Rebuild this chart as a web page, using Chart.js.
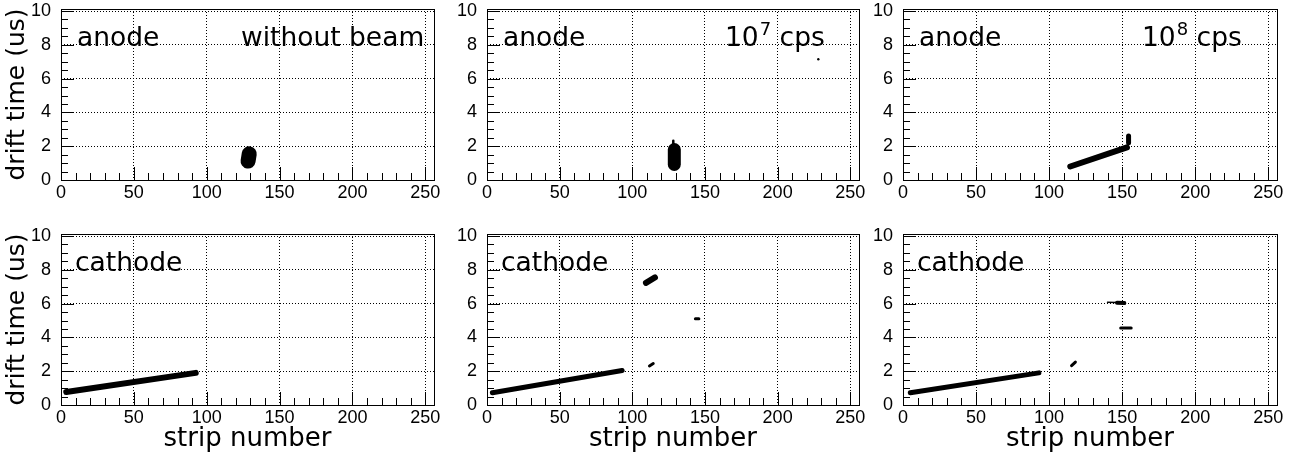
<!DOCTYPE html>
<html lang="en">
<head>
<meta charset="UTF-8" />
<title>Drift time vs strip number</title>
<style>
  body { margin: 0; background: #ffffff; }
  #wrap { position: relative; width: 1297px; height: 461px; background: #ffffff; overflow: hidden; }
  #wrap canvas { position: absolute; }
</style>
<script src="https://cdn.jsdelivr.net/npm/chart.js@4.4.1/dist/chart.umd.min.js"></script>
</head>
<body>
<div id="wrap">
  <canvas id="p1" width="440" height="220" style="left:0px;top:0px"></canvas>
  <canvas id="p2" width="430" height="220" style="left:440px;top:0px"></canvas>
  <canvas id="p3" width="432" height="220" style="left:865px;top:0px"></canvas>
  <canvas id="p4" width="440" height="241" style="left:0px;top:220px"></canvas>
  <canvas id="p5" width="430" height="241" style="left:440px;top:220px"></canvas>
  <canvas id="p6" width="432" height="241" style="left:865px;top:220px"></canvas>
</div>
<script>
// tick labels
const xTicks = [0, 50, 100, 150, 200, 250];
const yTicks = [0, 2, 4, 6, 8, 10];

// panel names
const electrodes = ['anode', 'cathode'];
const rates = [['without beam'], ['10', '7', ' cps'], ['10', '8', ' cps']];

// hit clusters: (strip number, drift time in us)
// anode, without beam
const anodeOffBlob = [{x: 128.4, y: 1.12}, {x: 129.2, y: 1.55}];
// anode, 10^7 cps
const anode7Blob = [{x: 128.9, y: 0.92}, {x: 128.9, y: 1.8}];
const anode7Spike = [{x: 128.2, y: 2.15}, {x: 128.2, y: 2.33}];
const anode7Stray = [{x: 228, y: 7.15}];
// anode, 10^8 cps
const anode8Band = [{x: 114.5, y: 0.8}, {x: 153.3, y: 1.93}];
const anode8Tail = [{x: 154.4, y: 2.2}, {x: 154.4, y: 2.6}];
// cathode, without beam
const cathodeOffBand = [{x: 3.6, y: 0.77}, {x: 92.5, y: 1.9}];
// cathode, 10^7 cps
const cathode7Band = [{x: 3.7, y: 0.72}, {x: 93, y: 2.04}];
const cathode7Upper = [{x: 109.4, y: 7.23}, {x: 115.6, y: 7.55}];
const cathode7Low = [{x: 111.8, y: 2.31}, {x: 114.4, y: 2.45}];
const cathode7Dash = [{x: 143.4, y: 5.1}, {x: 145.8, y: 5.1}];
// cathode, 10^8 cps
const cathode8Band = [{x: 5, y: 0.72}, {x: 93, y: 1.9}];
const cathode8Low = [{x: 115.4, y: 2.33}, {x: 118, y: 2.54}];
const cathode8UpperThin = [{x: 140, y: 6.08}, {x: 146, y: 6.06}];
const cathode8Upper = [{x: 146.5, y: 6.05}, {x: 151.5, y: 6.03}];
const cathode8Lower = [{x: 149, y: 4.55}, {x: 156.2, y: 4.55}];

const X_MAX = 256;
const Y_MAX = 10.12;

// layout of the 3x2 grid (pixels inside each canvas)
const cols = [
  { axisW: 61, padR: 6, yTitle: true },
  { axisW: 47, padR: 11, yTitle: false },
  { axisW: 38, padR: 20, yTitle: false }
];
const rows = [
  { padT: 9, axisH: 40, xTitle: false, nameDx: 16 },
  { padT: 14, axisH: 56, xTitle: true, nameDx: 14 }
];

const panels = [
  { id: 'p1', row: 0, col: 0, strokes: [[anodeOffBlob, 15]], dots: [] },
  { id: 'p2', row: 0, col: 1, strokes: [[anode7Blob, 13], [anode7Spike, 2.5]], dots: [anode7Stray] },
  { id: 'p3', row: 0, col: 2, strokes: [[anode8Band, 6], [anode8Tail, 5]], dots: [] },
  { id: 'p4', row: 1, col: 0, strokes: [[cathodeOffBand, 6]], dots: [] },
  { id: 'p5', row: 1, col: 1, strokes: [[cathode7Band, 5], [cathode7Upper, 6], [cathode7Low, 3], [cathode7Dash, 3]], dots: [] },
  { id: 'p6', row: 1, col: 2, strokes: [[cathode8Band, 5], [cathode8Low, 3], [cathode8UpperThin, 1.5], [cathode8Upper, 4], [cathode8Lower, 3]], dots: [] }
];
const rateDx = [180, 238, 239];
const LABEL_FONT = '26.5px "DejaVu Sans"';
const SUP_FONT = '18px "DejaVu Sans"';

// ROOT-like frame with inward ticks
const rootFrame = {
  id: 'rootFrame',
  afterDatasetsDraw(chart) {
    const { ctx, chartArea: a, scales: { x, y } } = chart;
    ctx.save();
    ctx.strokeStyle = '#000';
    ctx.lineWidth = 1;
    ctx.beginPath();
    for (let i = 0; i * 10 <= x.max; i++) {
      const px = Math.round(x.getPixelForValue(i * 10)) + 0.5;
      const len = i % 5 === 0 ? 13 : 7;
      ctx.moveTo(px, a.bottom);
      ctx.lineTo(px, a.bottom - len);
    }
    for (let i = 0; i * 0.5 <= y.max; i++) {
      const py = Math.round(y.getPixelForValue(i * 0.5)) + 0.5;
      const len = i % 4 === 0 ? 13 : 7;
      ctx.moveTo(a.left, py);
      ctx.lineTo(a.left + len, py);
    }
    ctx.stroke();
    ctx.strokeRect(Math.round(a.left) + 0.5, Math.round(a.top) + 0.5,
                   Math.round(a.right - a.left), Math.round(a.bottom - a.top));
    ctx.restore();
  }
};

// "anode" / "cathode" and the beam rate inside each frame
const panelText = {
  id: 'panelText',
  afterDraw(chart, args, opts) {
    const { ctx, chartArea: a } = chart;
    const base = a.top + 37;
    ctx.save();
    ctx.fillStyle = '#000';
    ctx.textBaseline = 'alphabetic';
    ctx.textAlign = 'left';
    ctx.font = LABEL_FONT;
    ctx.fillText(opts.name, a.left + opts.nameDx, base);
    if (opts.rate) {
      const [main, sup, rest] = opts.rate;
      let x = a.left + opts.rateDx;
      ctx.fillText(main, x, base);
      x += ctx.measureText(main).width;
      if (sup) {
        ctx.font = SUP_FONT;
        ctx.fillText(sup, x + 1, base - 11);
        x += ctx.measureText(sup).width + 1;
        ctx.font = LABEL_FONT;
        ctx.fillText(rest, x, base);
      }
    }
    ctx.restore();
  }
};

function makePanel(p) {
  const col = cols[p.col];
  const row = rows[p.row];
  const datasets = [];
  p.strokes.forEach(([pts, w]) => {
    datasets.push({
      data: pts,
      showLine: true,
      borderColor: '#000',
      borderWidth: w,
      borderCapStyle: 'round',
      borderJoinStyle: 'round',
      pointRadius: 0
    });
  });
  p.dots.forEach(pts => {
    datasets.push({
      data: pts,
      showLine: false,
      pointRadius: 1.2,
      pointBorderWidth: 0,
      backgroundColor: '#000'
    });
  });

  new Chart(document.getElementById(p.id), {
    type: 'scatter',
    data: { datasets: datasets },
    options: {
      responsive: false,
      animation: false,
      events: [],
      layout: { padding: { top: row.padT, right: col.padR, left: 0, bottom: 0 } },
      plugins: {
        legend: { display: false },
        tooltip: { enabled: false },
        panelText: {
          name: electrodes[p.row],
          nameDx: row.nameDx,
          rate: p.row === 0 ? rates[p.col] : null,
          rateDx: rateDx[p.col]
        }
      },
      scales: {
        x: {
          type: 'linear',
          min: 0,
          max: X_MAX,
          afterBuildTicks: s => { s.ticks = xTicks.map(v => ({ value: v })); },
          afterFit: s => { s.height = row.axisH; s.paddingLeft = 0; s.paddingRight = 0; },
          grid: { color: '#000', lineWidth: 1, drawTicks: false },
          border: { display: false, dash: [1, 2] },
          ticks: {
            color: '#000',
            font: { family: 'Liberation Sans', size: 18 },
            padding: 2,
            autoSkip: false,
            maxRotation: 0
          },
          title: {
            display: row.xTitle,
            text: 'strip number',
            color: '#000',
            font: { family: 'DejaVu Sans', size: 26 },
            padding: { top: 0, bottom: 6 }
          }
        },
        y: {
          type: 'linear',
          min: 0,
          max: Y_MAX,
          afterBuildTicks: s => { s.ticks = yTicks.map(v => ({ value: v })); },
          afterFit: s => { s.width = col.axisW; s.paddingTop = 0; s.paddingBottom = 0; },
          grid: { color: '#000', lineWidth: 1, drawTicks: false },
          border: { display: false, dash: [1, 2] },
          ticks: {
            color: '#000',
            font: { family: 'Liberation Sans', size: 18 },
            padding: 10,
            autoSkip: false
          },
          title: {
            display: col.yTitle,
            text: 'drift time (us)',
            color: '#000',
            font: { family: 'DejaVu Sans', size: 25 },
            padding: { top: 2.5, bottom: 0 }
          }
        }
      }
    },
    plugins: [rootFrame, panelText]
  });
}

panels.forEach(makePanel);
</script>
</body>
</html>
